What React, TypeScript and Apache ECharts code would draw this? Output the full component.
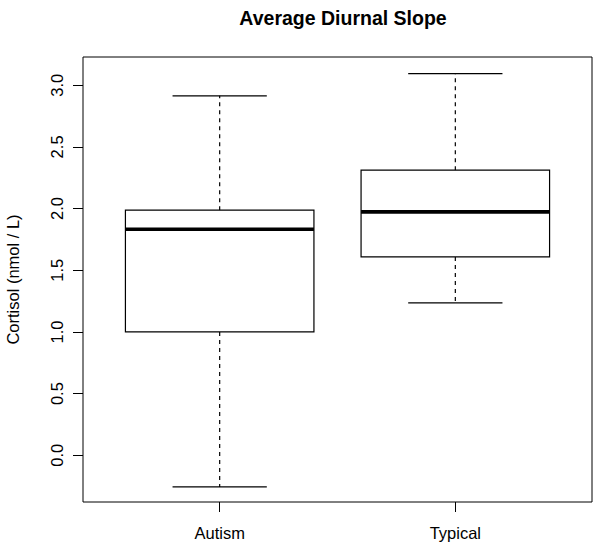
import React, { useEffect, useRef } from "react";
import * as echarts from "echarts";

const categories = ["Autism", "Typical"];
const lowerWhisker = [-0.257, 1.235];
const lowerQuartile = [1.0, 1.608];
const medians = [1.832, 1.973];
const upperQuartile = [1.987, 2.311];
const upperWhisker = [2.914, 3.095];
const yTicks = [0, 0.5, 1.0, 1.5, 2.0, 2.5, 3.0];
const xTicks = [1, 2];

const FONT = "Liberation Sans, Arial, Helvetica, sans-serif";

export default function App() {
  const ref = useRef<HTMLDivElement>(null);
  useEffect(() => {
    if (!ref.current) return;
    const chart = echarts.init(ref.current, null, { renderer: "svg" });
    const data = categories.map((c, i) => [
      i + 1,
      lowerWhisker[i],
      lowerQuartile[i],
      medians[i],
      upperQuartile[i],
      upperWhisker[i],
    ]);
    const option: any = {
      animation: false,
      backgroundColor: "#fff",
      title: {
        text: "Average Diurnal Slope",
        left: 338,
        top: 3,
        textAlign: "center",
        textStyle: { fontFamily: FONT, fontSize: 19.5, fontWeight: "bold", color: "#000" },
      },
      grid: {
        left: 83,
        top: 57,
        width: 509,
        height: 445,
        containLabel: false,
        outerBoundsMode: "none",
        show: true,
        borderColor: "#000",
        borderWidth: 1,
        backgroundColor: "transparent",
      },
      xAxis: {
        type: "value",
        min: 0.42,
        max: 2.58,
        position: "bottom",
        axisLine: { show: false, onZero: false },
        splitLine: { show: false },
        axisTick: {
          show: true,
          length: 10,
          customValues: xTicks,
          lineStyle: { color: "#000", width: 1 },
        },
        axisLabel: {
          customValues: xTicks,
          margin: 22,
          fontFamily: FONT,
          fontSize: 16.5,
          color: "#000",
          formatter: (v: number) => categories[Math.round(v) - 1] ?? "",
        },
      },
      yAxis: {
        type: "value",
        min: -0.379,
        max: 3.229,
        name: "Cortisol (nmol / L)",
        nameLocation: "middle",
        nameGap: 62,
        nameRotate: 90,
        nameTextStyle: { fontFamily: FONT, fontSize: 16.5, color: "#000" },
        axisLine: { show: false, onZero: false },
        splitLine: { show: false },
        axisTick: {
          show: true,
          length: 10,
          customValues: yTicks,
          lineStyle: { color: "#000", width: 1 },
        },
        axisLabel: {
          customValues: yTicks,
          rotate: 90,
          margin: 18,
          fontFamily: FONT,
          fontSize: 16.5,
          color: "#000",
          formatter: (v: number) => v.toFixed(1),
        },
      },
      series: [
        {
          type: "custom",
          data,
          encode: { x: 0, y: [1, 2, 3, 4, 5] },
          renderItem: (params: any, api: any) => {
            const x = api.value(0);
            const bw = api.size([0.8, 0])[0];
            const cw = bw / 2;
            const pLow = api.coord([x, api.value(1)]);
            const pQ1 = api.coord([x, api.value(2)]);
            const pMed = api.coord([x, api.value(3)]);
            const pQ3 = api.coord([x, api.value(4)]);
            const pHigh = api.coord([x, api.value(5)]);
            const cx = pMed[0];
            const solid = { stroke: "#000", lineWidth: 1.2, fill: null };
            const dashed = { stroke: "#000", lineWidth: 1.2, lineDash: [4, 4], fill: null };
            return {
              type: "group",
              children: [
                {
                  type: "line",
                  shape: { x1: cx, y1: pQ3[1], x2: cx, y2: pHigh[1] },
                  style: dashed,
                },
                {
                  type: "line",
                  shape: { x1: cx, y1: pQ1[1], x2: cx, y2: pLow[1] },
                  style: dashed,
                },
                {
                  type: "line",
                  shape: { x1: cx - cw / 2, y1: pHigh[1], x2: cx + cw / 2, y2: pHigh[1] },
                  style: solid,
                },
                {
                  type: "line",
                  shape: { x1: cx - cw / 2, y1: pLow[1], x2: cx + cw / 2, y2: pLow[1] },
                  style: solid,
                },
                {
                  type: "rect",
                  shape: { x: cx - bw / 2, y: pQ3[1], width: bw, height: pQ1[1] - pQ3[1] },
                  style: { stroke: "#000", lineWidth: 1.2, fill: "#fff" },
                },
                {
                  type: "line",
                  shape: { x1: cx - bw / 2, y1: pMed[1], x2: cx + bw / 2, y2: pMed[1] },
                  style: { stroke: "#000", lineWidth: 3.6 },
                },
              ],
            };
          },
        },
      ],
    };
    chart.setOption(option);
    return () => chart.dispose();
  }, []);
  return <div ref={ref} style={{ width: 601, height: 552, position: "absolute", left: 0, top: 0 }} />;
}
